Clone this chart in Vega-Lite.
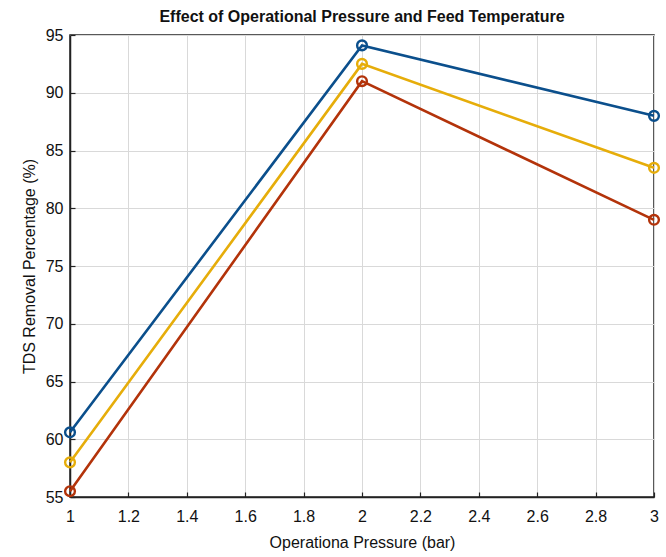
{
  "$schema": "https://vega.github.io/schema/vega-lite/v6.json",
  "width": 584,
  "height": 462,
  "autosize": {"type": "none"},
  "padding": {"left": 70, "top": 35, "right": 12, "bottom": 60},
  "background": "white",
  "title": {
    "text": "Effect of Operational Pressure and Feed Temperature",
    "font": "Liberation Sans",
    "fontSize": 16,
    "fontWeight": "bold",
    "color": "#111111",
    "anchor": "middle",
    "offset": 2
  },
  "config": {
    "view": {"stroke": "#222222", "strokeWidth": 1.5},
    "axis": {
      "labelFont": "Liberation Sans",
      "titleFont": "Liberation Sans",
      "labelFontSize": 16,
      "titleFontSize": 16,
      "titleFontWeight": "normal",
      "labelColor": "#111111",
      "titleColor": "#111111",
      "gridColor": "#d9d9d9",
      "gridWidth": 1,
      "domainColor": "#222222",
      "domainWidth": 1.5,
      "tickColor": "#222222",
      "tickSize": -5,
      "tickWidth": 1.2
    }
  },
  "data": {
    "values": [
      {"pressure": 1, "tds": 60.6, "series": "A"},
      {"pressure": 2, "tds": 94.1, "series": "A"},
      {"pressure": 3, "tds": 88.0, "series": "A"},
      {"pressure": 1, "tds": 58.0, "series": "B"},
      {"pressure": 2, "tds": 92.5, "series": "B"},
      {"pressure": 3, "tds": 83.5, "series": "B"},
      {"pressure": 1, "tds": 55.5, "series": "C"},
      {"pressure": 2, "tds": 91.0, "series": "C"},
      {"pressure": 3, "tds": 79.0, "series": "C"}
    ]
  },
  "encoding": {
    "x": {
      "field": "pressure",
      "type": "quantitative",
      "scale": {"domain": [1, 3], "nice": false, "zero": false},
      "axis": {
        "title": "Operationa Pressure (bar)",
        "values": [1, 1.2, 1.4, 1.6, 1.8, 2, 2.2, 2.4, 2.6, 2.8, 3],
        "format": "~g",
        "labelPadding": 16,
        "titlePadding": 10,
        "labelFlush": false
      }
    },
    "y": {
      "field": "tds",
      "type": "quantitative",
      "scale": {"domain": [55, 95], "nice": false, "zero": false},
      "axis": {
        "title": "TDS Removal Percentage (%)",
        "values": [55, 60, 65, 70, 75, 80, 85, 90, 95],
        "labelPadding": 12,
        "titlePadding": 8,
        "labelFlush": false
      }
    },
    "color": {
      "field": "series",
      "type": "nominal",
      "scale": {"domain": ["A", "B", "C"], "range": ["#0b4f8c", "#e6ad0a", "#b3330a"]},
      "legend": null
    }
  },
  "layer": [
    {"mark": {"type": "line", "strokeWidth": 2.6, "clip": false}},
    {"mark": {"type": "point", "shape": "circle", "filled": false, "size": 95, "strokeWidth": 2.4, "opacity": 1, "clip": false}}
  ]
}
